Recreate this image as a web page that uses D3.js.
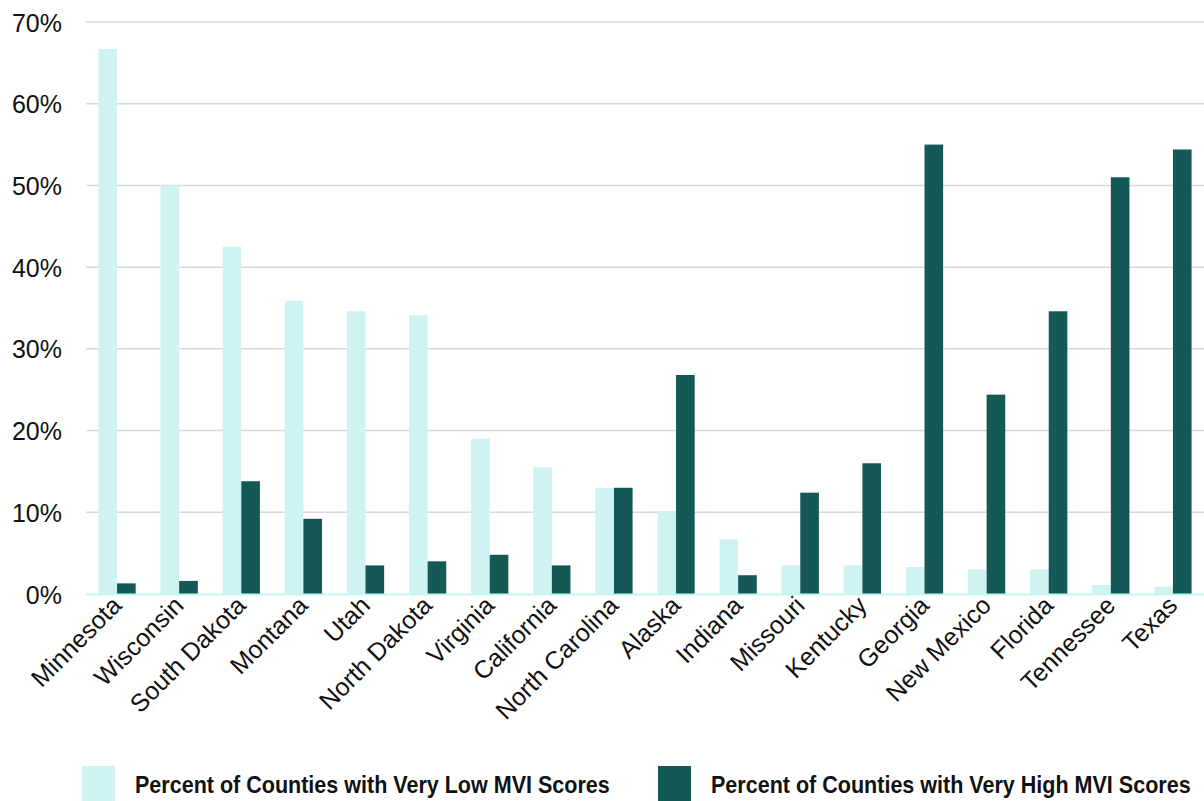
<!DOCTYPE html>
<html>
<head>
<meta charset="utf-8">
<script src="https://cdn.jsdelivr.net/npm/d3@7"></script>
<style>
  html, body { margin: 0; padding: 0; background: #fff; }
  svg { display: block; }
</style>
</head>
<body>
<svg id="chart" width="1204" height="801"></svg>
<script>
// States ordered by share of counties with very low MVI scores
const states = ["Minnesota", "Wisconsin", "South Dakota", "Montana", "Utah", "North Dakota",
  "Virginia", "California", "North Carolina", "Alaska", "Indiana", "Missouri", "Kentucky",
  "Georgia", "New Mexico", "Florida", "Tennessee", "Texas"];

// Percent of counties with very low MVI scores
const veryLow = [66.7, 50.0, 42.5, 35.9, 34.6, 34.1, 19.0, 15.5, 13.0, 10.1, 6.7, 3.5, 3.5,
  3.3, 3.0, 3.0, 1.1, 0.9];

// Percent of counties with very high MVI scores
const veryHigh = [1.3, 1.6, 13.8, 9.2, 3.5, 4.0, 4.8, 3.5, 13.0, 26.8, 2.3, 12.4, 16.0,
  55.0, 24.4, 34.6, 51.0, 54.4];

const yTicks = [0, 10, 20, 30, 40, 50, 60, 70];

const seriesNames = ["Percent of Counties with Very Low MVI Scores",
  "Percent of Counties with Very High MVI Scores"];
const seriesColors = ["#cff2f2", "#155956"];

const svg = d3.select("#chart");
const plotLeft = 86, plotRight = 1204, plotTop = 22, plotBottom = 594;

const x = d3.scaleBand().domain(states).range([plotLeft, plotRight])
  .paddingInner(0.4).paddingOuter(0.2);
const x1 = d3.scaleBand().domain([0, 1]).range([0, x.bandwidth()]);
const y = d3.scaleLinear().domain([0, 70]).range([plotBottom, plotTop]);

// horizontal gridlines
svg.append("g").selectAll("line")
  .data(yTicks.filter(d => d > 0))
  .join("line")
  .attr("x1", plotLeft).attr("x2", plotRight)
  .attr("y1", d => y(d)).attr("y2", d => y(d))
  .attr("stroke", "#d9d9d9").attr("stroke-width", 1.5);

// y axis labels
const yAxis = d3.axisLeft(y).tickValues(yTicks).tickFormat(d => d + "%").tickSize(0).tickPadding(0);
svg.append("g")
  .attr("transform", `translate(62,0)`)
  .call(yAxis)
  .call(g => g.select(".domain").remove())
  .selectAll("text")
  .attr("font-family", "'Liberation Sans', Arial, sans-serif")
  .attr("font-size", 25)
  .attr("fill", "#111")
  .attr("dy", "0.36em");

// bars
const rows = states.map((s, i) => ({ state: s, vals: [veryLow[i], veryHigh[i]] }));
const groups = svg.append("g").selectAll("g")
  .data(rows)
  .join("g")
  .attr("transform", d => `translate(${x(d.state)},0)`);

groups.selectAll("rect")
  .data(d => d.vals.map((v, k) => ({ v, k })))
  .join("rect")
  .attr("x", d => x1(d.k))
  .attr("width", x1.bandwidth())
  .attr("y", d => y(d.v))
  .attr("height", d => y(0) - y(d.v))
  .attr("fill", d => seriesColors[d.k]);

// baseline
svg.append("line")
  .attr("x1", plotLeft).attr("x2", plotRight)
  .attr("y1", y(0) + 0.5).attr("y2", y(0) + 0.5)
  .attr("stroke", "#c2f7f5").attr("stroke-width", 2);

// category labels, rotated
const xAxis = d3.axisBottom(x).tickSize(0).tickPadding(0);
svg.append("g")
  .attr("transform", `translate(0,${plotBottom})`)
  .call(xAxis)
  .call(g => g.select(".domain").remove())
  .selectAll("text")
  .attr("font-family", "'Liberation Sans', Arial, sans-serif")
  .attr("font-size", 25)
  .attr("fill", "#111")
  .attr("text-anchor", "end")
  .attr("dy", null)
  .attr("y", 0)
  .attr("transform", "translate(6,13) rotate(-45)");

// legend: swatch plus a horizontally condensed bold label
const legendItems = [
  { sx: 82, tx: 135, w: 475 },
  { sx: 658, tx: 711, w: 480 }
];
const legend = svg.append("g").selectAll("g")
  .data(legendItems)
  .join("g");
legend.append("rect")
  .attr("x", d => d.sx).attr("y", 766)
  .attr("width", 33).attr("height", 35)
  .attr("fill", (d, i) => seriesColors[i]);
legend.append("text")
  .attr("x", 0).attr("y", 0)
  .attr("font-family", "'Liberation Sans', Arial, sans-serif")
  .attr("font-weight", "bold")
  .attr("font-size", 23)
  .attr("fill", "#111")
  .text((d, i) => seriesNames[i])
  .attr("transform", function (d) {
    const natural = this.getComputedTextLength();
    return `translate(${d.tx},793) scale(${d.w / natural},1)`;
  });
</script>
</body>
</html>
